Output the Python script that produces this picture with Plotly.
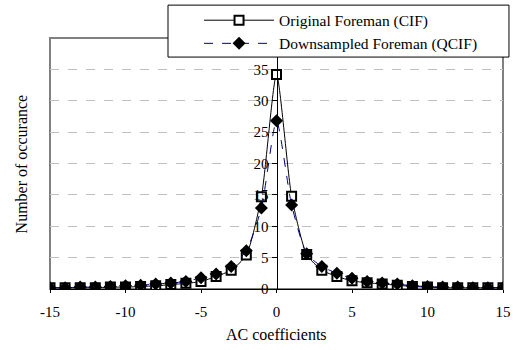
import plotly.graph_objects as go

x_vals = list(range(-15, 16))
original_cif = [0.2, 0.2, 0.2, 0.2, 0.3, 0.3, 0.4, 0.5, 0.7, 0.9, 1.2, 2.0, 3.0, 5.4, 14.7,
                34.2,
                14.8, 5.5, 3.0, 2.0, 1.3, 1.0, 0.8, 0.6, 0.4, 0.3, 0.2, 0.2, 0.2, 0.2, 0.2]
downsampled_qcif = [0.2, 0.2, 0.3, 0.3, 0.4, 0.5, 0.6, 0.8, 0.95, 1.2, 1.8, 2.4, 3.6, 6.1, 12.9,
                    26.8,
                    13.4, 5.6, 3.6, 2.5, 1.7, 1.2, 0.95, 0.8, 0.5, 0.4, 0.3, 0.3, 0.2, 0.2, 0.2]
x_ticks = [-15, -10, -5, 0, 5, 10, 15]
x_tick_labels = ["-15", "-10", "-5", "0", "5", "10", "15"]
y_ticks = [0, 5, 10, 15, 20, 25, 30, 35]
y_tick_labels = ["0", "5", "10", "15", "20", "25", "30", "35"]

FONT = "Liberation Serif, Times New Roman, serif"

fig = go.Figure()
fig.add_trace(go.Scatter(
    x=x_vals, y=original_cif, name="Original Foreman (CIF)", mode="lines+markers",
    line=dict(color="black", width=1, shape="spline", smoothing=0.6),
    marker=dict(symbol="square", size=9, color="white", line=dict(color="black", width=2)),
    legendgroup="a",
))
fig.add_trace(go.Scatter(
    x=x_vals, y=downsampled_qcif, name="Downsampled Foreman (QCIF)", mode="lines+markers",
    line=dict(color="#000080", width=1, dash="dash", shape="spline", smoothing=0.6),
    marker=dict(symbol="diamond", size=10, color="black", line=dict(color="black", width=0)),
    legendgroup="b",
))

# plot frame
fig.add_shape(type="rect", xref="x domain", yref="y domain", x0=0, x1=1, y0=0, y1=1,
              line=dict(color="#808080", width=2), layer="below")
# legend box
fig.add_shape(type="rect", xref="paper", yref="paper", x0=0.2605, x1=1.0132, y0=0.924, y1=1.131,
              line=dict(color="black", width=1), fillcolor="white", layer="above")

fig.add_annotation(text="Number of occurance", xref="paper", yref="paper", x=-0.062, y=0.5,
                   textangle=-90, showarrow=False, font=dict(family=FONT, size=16, color="black"),
                   xanchor="center", yanchor="middle")
fig.add_annotation(text="AC coefficients", xref="paper", yref="paper", x=0.5, y=-0.183,
                   showarrow=False, font=dict(family=FONT, size=16, color="black"),
                   xanchor="center", yanchor="middle")

fig.update_layout(
    width=513, height=350,
    margin=dict(l=50, r=10, t=38, b=61, autoexpand=False),
    paper_bgcolor="white", plot_bgcolor="white",
    font=dict(family=FONT, size=15, color="black"),
    showlegend=True,
    legend=dict(x=0.329, y=1.137, xanchor="left", yanchor="top",
                bgcolor="rgba(0,0,0,0)", borderwidth=0,
                font=dict(family=FONT, size=15.5, color="black"),
                itemwidth=70, tracegroupgap=0),
    xaxis=dict(range=[-15, 15], tickvals=x_ticks, ticktext=x_tick_labels,
               showgrid=False, zeroline=False,
               showline=True, linecolor="black", linewidth=1,
               ticks="outside", ticklen=3, tickcolor="black", ticklabelstandoff=6,
               automargin=False),
    yaxis=dict(range=[0, 40], tickvals=y_ticks, ticktext=y_tick_labels,
               anchor="free", position=0.5,
               showline=True, linecolor="black", linewidth=1,
               ticks="outside", ticklen=5, tickcolor="black",
               showgrid=True, gridcolor="#c0c0c0", griddash="dash", gridwidth=1,
               zeroline=False, automargin=False),
)

fig.write_html("out.html", config={"displayModeBar": False},
               post_script="document.body.style.margin='0';")
